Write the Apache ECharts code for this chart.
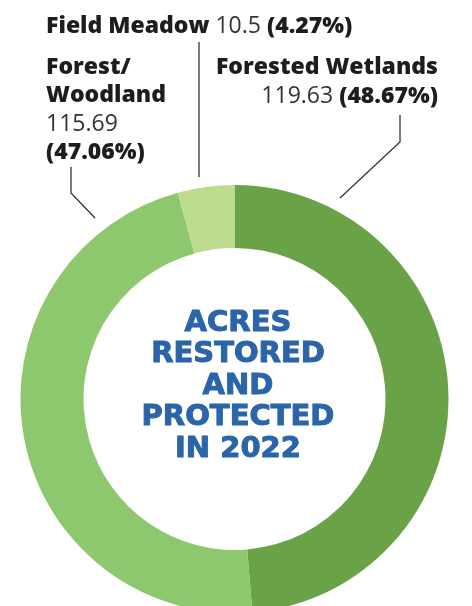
<!DOCTYPE html>
<html>
<head>
<meta charset="utf-8">
<script src="https://cdn.jsdelivr.net/npm/echarts@6/dist/echarts.min.js"></script>
<style>
	html, body {margin:0; padding:0; background:#fff;}
	#main {width:472px; height:606px;}
</style>
</head>
<body>
<div id="main"></div>
<script>
// acres by land type, clockwise from the top
var categories = ['Forested Wetlands', 'Forest/Woodland', 'Field Meadow']
var acres = [119.63, 115.69, 10.5]
var sliceColors = ['#69a247', '#8dc86f', '#bedc8f']
var centerLines = ['ACRES', 'RESTORED', 'AND', 'PROTECTED', 'IN 2022']

function labelText(p) {
	var v = p.value, pc = '(' + p.percent.toFixed(2) + '%)'
	if (p.dataIndex == 0) return '{br|' + p.name + '}\n{nr|' + v + ' }{br|' + pc + '}'
	if (p.dataIndex == 1) return '{b|Forest/}\n{b|Woodland}\n{n|' + v + '}\n{b|' + pc + '}'
	return '{b|' + p.name + ' }{n|' + v + ' }{b|' + pc + '}'
}

// where each label sits and how its leader line runs
var labelSpots = [
	{x: 438, y: 82, align: 'right', pts: [[340, 198], [400, 142], [400, 115]]},
	{x: 46, y: 110, align: 'left', pts: [[95, 218], [71, 193], [71, 167]]},
	{x: 46, y: 26, align: 'left', pts: [[199, 177], [199, 110], [199, 42]]}
]

function renderChart() {
	var myChart = echarts.init(document.getElementById('main'))
	var txt = {fontFamily: 'Open Sans', fontSize: 23, lineHeight: 28.5}
	var option = {
		color: sliceColors,
		animation: false,
		graphic: [{
			type: 'text',
			x: 238,
			y: 386,
			style: {
				text: centerLines.join('\n'),
				align: 'center',
				verticalAlign: 'middle',
				fontFamily: 'DejaVu Sans',
				fontWeight: 'bold',
				fontSize: 29,
				lineHeight: 31.5,
				fill: '#2b64a9',
				stroke: '#2b64a9',
				lineWidth: 1
			}
		}],
		series: [{
			type: 'pie',
			center: [234.5, 399],
			radius: [151, 214],
			startAngle: 90,
			clockwise: true,
			percentPrecision: 2,
			avoidLabelOverlap: false,
			silent: true,
			label: {
				show: true,
				overflow: 'none',
				formatter: labelText,
				rich: {
					b: Object.assign({fontWeight: 800, color: '#1d1d1b'}, txt),
					n: Object.assign({fontWeight: 400, color: '#333'}, txt),
					br: Object.assign({fontWeight: 800, color: '#1d1d1b', align: 'right'}, txt),
					nr: Object.assign({fontWeight: 400, color: '#333', align: 'right'}, txt)
				}
			},
			labelLine: {
				show: true,
				lineStyle: {color: '#333', width: 1.3}
			},
			labelLayout: function (p) {
				var s = labelSpots[p.dataIndex]
				return {x: s.x, y: s.y, align: s.align, verticalAlign: 'middle', hideOverlap: false, labelLinePoints: s.pts}
			},
			data: categories.map(function (c, i) {
				return {name: c, value: acres[i]}
			})
		}]
	}
	myChart.setOption(option)
}
renderChart()
</script>
</body>
</html>
